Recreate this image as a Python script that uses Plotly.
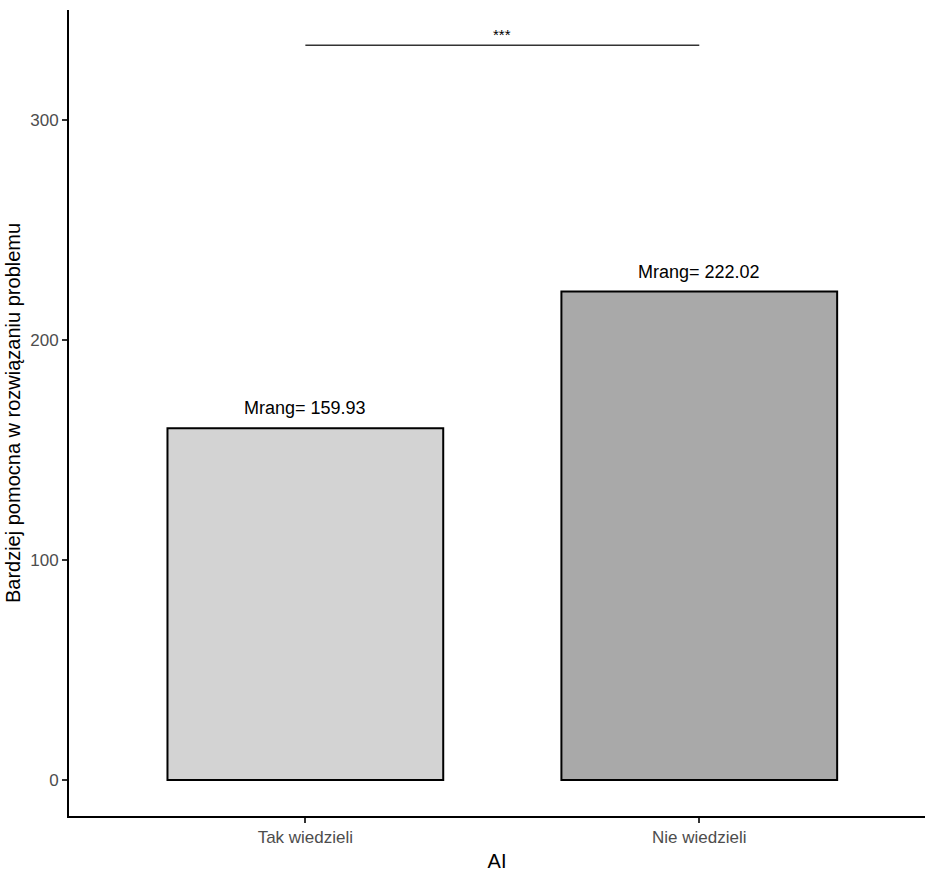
import plotly.graph_objects as go

categories = ["Tak wiedzieli", "Nie wiedzieli"]
values = [159.93, 222.02]
fills = ["#D3D3D3", "#A9A9A9"]
labels = ["Mrang= 159.93", "Mrang= 222.02"]
sig_y = 334
sig_text = "***"
y_ticks = [0, 100, 200, 300]

xpos = list(range(1, len(categories) + 1))
FONT = "Liberation Sans Narrow, Liberation Sans, Arial"

fig = go.Figure()
fig.add_trace(go.Bar(
    x=xpos, y=values, width=0.7,
    marker=dict(color=fills, line=dict(color="black", width=2)),
    showlegend=False, hoverinfo="skip",
))
fig.add_trace(go.Scatter(
    x=[xpos[0], xpos[1]], y=[sig_y, sig_y], mode="lines",
    line=dict(color="#333333", width=1.5), showlegend=False, hoverinfo="skip",
))

for xp, v, lab in zip(xpos, values, labels):
    fig.add_annotation(x=xp, y=v, text=lab, showarrow=False, yanchor="bottom",
                       yshift=8, font=dict(family=FONT, size=18, color="black"))
fig.add_annotation(x=(xpos[0] + xpos[1]) / 2, y=sig_y, text=sig_text, showarrow=False,
                   yanchor="bottom", yshift=0,
                   font=dict(family="Liberation Sans, Arial", size=15, color="black"))

fig.update_layout(
    width=925, height=873,
    margin=dict(l=69, r=0, t=10, b=57),
    plot_bgcolor="white", paper_bgcolor="white",
    xaxis=dict(range=[0.4, 2.573], tickvals=xpos, ticktext=categories,
               showline=True, linecolor="black", linewidth=2, showgrid=False, zeroline=False,
               ticks="outside", ticklen=5, tickwidth=2, tickcolor="#333333",
               tickfont=dict(family=FONT, size=17, color="#4D4D4D"),
               title=dict(text="AI", standoff=8,
                          font=dict(family=FONT, size=20, color="black"))),
    yaxis=dict(range=[-16.36, 350], tickvals=y_ticks,
               showline=True, linecolor="black", linewidth=2, showgrid=False, zeroline=False,
               ticks="outside", ticklen=5, tickwidth=2, tickcolor="#333333",
               tickfont=dict(family=FONT, size=17, color="#4D4D4D"),
               title=dict(text="Bardziej pomocna w rozwiązaniu problemu", standoff=4,
                          font=dict(family="Liberation Sans, Arial", size=20, color="black"))),
)

fig.write_html("out.html")
